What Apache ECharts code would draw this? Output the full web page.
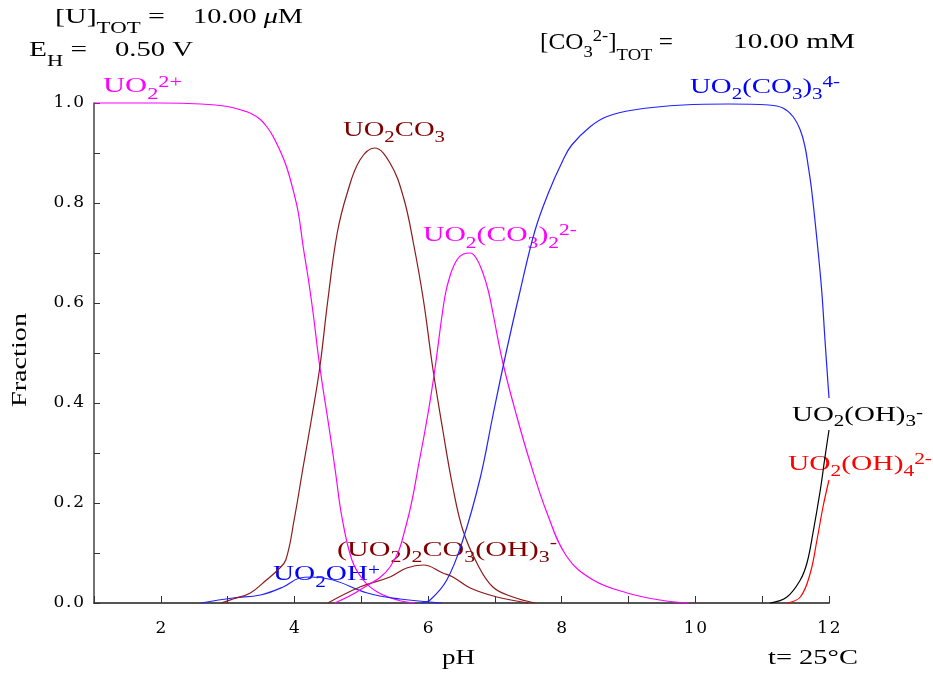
<!DOCTYPE html>
<html><head><meta charset="utf-8">
<script src="https://cdn.jsdelivr.net/npm/echarts@6/dist/echarts.min.js"></script>
<style>html,body{margin:0;padding:0;background:#fff}#c{width:933px;height:675px}</style>
</head><body><div id="c"></div>
<script>
// ---------- data ----------
const uo2_pH   = [1, 2, 2.6, 3.0, 3.2, 3.35, 3.49, 3.6, 3.68, 3.78, 3.88, 3.98, 4.06, 4.13, 4.21, 4.28, 4.38, 4.53, 4.62, 4.71, 4.86, 5.03, 5.24, 5.54, 5.8];
const uo2_frac = [1, 1, 0.998, 0.993, 0.986, 0.979, 0.967, 0.95, 0.933, 0.906, 0.873, 0.826, 0.779, 0.713, 0.646, 0.579, 0.472, 0.34, 0.256, 0.172, 0.086, 0.046, 0.022, 0.006, 0];

const uo2oh_pH   = [2.6, 3.08, 3.49, 3.83, 4.08, 4.25, 4.58, 5.09, 5.58, 6.2];
const uo2oh_frac = [0, 0.01, 0.016, 0.032, 0.05, 0.052, 0.046, 0.02, 0.008, 0];

const uo2co3_pH   = [2.9, 3.08, 3.34, 3.58, 3.75, 3.87, 4.0, 4.13, 4.26, 4.38, 4.50, 4.64, 4.79, 4.98, 5.2, 5.43, 5.63, 5.78, 5.93, 6.07, 6.22, 6.37, 6.52, 6.73, 6.97, 7.27, 7.6];
const uo2co3_frac = [0, 0.008, 0.02, 0.046, 0.066, 0.086, 0.17, 0.272, 0.372, 0.472, 0.606, 0.74, 0.82, 0.886, 0.91, 0.88, 0.812, 0.72, 0.606, 0.47, 0.346, 0.232, 0.146, 0.08, 0.032, 0.012, 0];

const dimer_pH   = [4.5, 4.98, 5.43, 5.68, 5.93, 6.22, 6.37, 6.63, 7.03, 7.5];
const dimer_frac = [0, 0.032, 0.052, 0.07, 0.076, 0.06, 0.052, 0.03, 0.012, 0];

const dic_pH   = [4.6, 4.98, 5.43, 5.68, 5.88, 6.0, 6.1, 6.25, 6.33, 6.43, 6.53, 6.63, 6.72, 6.82, 6.9, 6.97, 7.12, 7.33, 7.53, 7.78, 8.08, 8.47, 8.98, 9.47, 9.9];
const dic_frac = [0, 0.026, 0.072, 0.16, 0.292, 0.38, 0.466, 0.612, 0.655, 0.686, 0.698, 0.70, 0.69, 0.66, 0.625, 0.58, 0.48, 0.372, 0.28, 0.18, 0.092, 0.046, 0.02, 0.006, 0];

const tric_pH   = [5.9, 6.03, 6.28, 6.52, 6.78, 6.97, 7.15, 7.37, 7.6, 7.8, 8.02, 8.15, 8.43, 8.68, 9.07, 9.82, 10.5, 11.1, 11.31, 11.46, 11.57, 11.64, 11.69, 11.74, 11.82, 11.89, 11.94, 12];
const tric_frac = [0, 0.006, 0.046, 0.126, 0.25, 0.375, 0.49, 0.62, 0.745, 0.82, 0.886, 0.916, 0.953, 0.973, 0.986, 0.996, 0.998, 0.996, 0.99, 0.973, 0.946, 0.913, 0.873, 0.826, 0.726, 0.626, 0.526, 0.41];

const oh3_pH   = [11.12, 11.37, 11.57, 11.67, 11.76, 11.87, 11.94, 12];
const oh3_frac = [0, 0.012, 0.046, 0.08, 0.14, 0.226, 0.292, 0.346];

const oh4_pH   = [11.37, 11.57, 11.72, 11.82, 11.91, 12];
const oh4_frac = [0, 0.012, 0.06, 0.126, 0.192, 0.246];

const xTicks = [2, 4, 6, 8, 10, 12];
const yTicks = [0.0, 0.2, 0.4, 0.6, 0.8, 1.0];

// ---------- helpers ----------
const zip = (a, b) => a.map((v, i) => [v, b[i]]);
const SERIF = '"Liberation Serif", "Times New Roman", serif';
const TICKFONT = '"DejaVu Serif", serif';
const ctx = document.createElement('canvas').getContext('2d');
function mw(t, sz, it) { ctx.font = (it ? 'italic ' : '') + sz + 'px ' + SERIF; return ctx.measureText(t).width; }

// label: parts [text, kind('n','b','p','i'), dy?]
function label(spec) {
  const F = spec.size || 22, Fs = spec.subSize || Math.round(F * 0.74);
  let x = 0; const kids = [];
  spec.parts.forEach(p => {
    const t = p[0], k = p[1];
    const sz = (k === 'b' || k === 'p') ? Fs : F;
    let dy = p.length > 2 ? p[2] : (k === 'b' ? spec.sub : (k === 'p' ? spec.sup : 0));
    const it = k === 'i';
    kids.push({ type: 'text', x: x, y: dy - 0.3375 * sz, silent: true,
      style: { text: t, fontSize: sz, fontFamily: SERIF, fontStyle: it ? 'italic' : 'normal',
               fill: spec.color || '#000', align: 'left', verticalAlign: 'middle' } });
    x += mw(t, sz, it);
  });
  const s = spec.len / x;
  return { type: 'group', x: spec.x, y: spec.y, rotation: spec.rot || 0, scaleX: s, children: kids, silent: true };
}

const MAG = '#ff00ff', BRN = '#800000', BLU = '#0000ff', RED = '#ff0000', BLK = '#000000';
const labels = [
  { x: 55, y: 25, len: 110, size: 21, sub: 9, parts: [['[U]', 'n'], ['TOT', 'b'], [' =', 'n']] },
  { x: 193, y: 25, len: 110, size: 21, parts: [['10.00 ', 'n'], ['\u03bc', 'i'], ['M', 'n']] },
  { x: 29, y: 58, len: 58, size: 21, sub: 9, parts: [['E', 'n'], ['H', 'b'], [' =', 'n']] },
  { x: 115, y: 58, len: 78, size: 21, parts: [['0.50 V', 'n']] },
  { x: 540, y: 51, len: 133, size: 23, sub: 7, sup: -9, parts: [['[CO', 'n'], ['3', 'b'], ['2-', 'p'], [']', 'n'], ['TOT', 'b', 10], [' =', 'n']] },
  { x: 733, y: 50, len: 122, size: 21, parts: [['10.00 mM', 'n']] },
  { x: 103, y: 94, len: 79, color: MAG, sub: 6, sup: -6, parts: [['UO', 'n'], ['2', 'b'], ['2+', 'p']] },
  { x: 343, y: 138, len: 102, color: BRN, sub: 5, parts: [['UO', 'n'], ['2', 'b'], ['CO', 'n'], ['3', 'b']] },
  { x: 423, y: 243, len: 154, color: MAG, sub: 6, sup: -7, parts: [['UO', 'n'], ['2', 'b'], ['(CO', 'n'], ['3', 'b'], [')', 'n'], ['2', 'b'], ['2-', 'p']] },
  { x: 690, y: 95, len: 150, color: BLU, sub: 5, sup: -7, parts: [['UO', 'n'], ['2', 'b'], ['(CO', 'n'], ['3', 'b'], [')', 'n'], ['3', 'b'], ['4-', 'p']] },
  { x: 273, y: 582, len: 107, color: BLU, sub: 6, sup: -6, parts: [['UO', 'n'], ['2', 'b'], ['OH', 'n'], ['+', 'p']] },
  { x: 337, y: 558, len: 220, color: BRN, sub: 5, sup: -9, parts: [['(UO', 'n'], ['2', 'b'], [')', 'n'], ['2', 'b'], ['CO', 'n'], ['3', 'b'], ['(OH)', 'n'], ['3', 'b'], ['-', 'p']] },
  { x: 792, y: 423, len: 131, color: BLK, sub: 4, sup: -4, parts: [['UO', 'n'], ['2', 'b'], ['(OH)', 'n'], ['3', 'b'], ['-', 'p']] },
  { x: 788, y: 472, len: 144, color: RED, sub: 5, sup: -7, parts: [['UO', 'n'], ['2', 'b'], ['(OH)', 'n'], ['4', 'b'], ['2-', 'p']] },
  { x: 442, y: 666, len: 33, size: 21, parts: [['pH', 'n']] },
  { x: 768, y: 666, len: 90, size: 21, parts: [['t= 25\u00b0C', 'n']] },
  { x: 28, y: 407, len: 94, size: 21, rot: Math.PI / 2, parts: [['Fraction', 'n']] }
];

const spaced = s => s.split('').join('\u200a');

function line(name, px, fr, color) {
  return { name, type: 'line', data: zip(px, fr), showSymbol: false, smooth: 0.4, clip: false,
           lineStyle: { color, width: 1.2 }, itemStyle: { color }, silent: true, z: 3 };
}

const chart = echarts.init(document.getElementById('c'), null, { renderer: 'canvas' });
chart.setOption({
  animation: false,
  backgroundColor: '#fff',
  grid: { left: 94, right: 104, top: 103, bottom: 72, containLabel: false },
  xAxis: {
    type: 'value', min: 1, max: 12, interval: 1,
    axisLine: { show: true, onZero: false, lineStyle: { color: '#555', width: 2 } },
    axisTick: { show: true, inside: true, length: 7, lineStyle: { color: '#333', width: 1 } },
    splitLine: { show: false },
    axisLabel: { interval: 0, margin: 17, color: '#000', fontFamily: TICKFONT, fontSize: 17,
      formatter: v => xTicks.includes(Math.round(v * 1000) / 1000) ? spaced(String(v)) : '' }
  },
  yAxis: {
    type: 'value', min: 0, max: 1.0, interval: 0.1,
    axisLine: { show: true, lineStyle: { color: '#444', width: 1.5 } },
    axisTick: { show: true, inside: true, length: 6, lineStyle: { color: '#333', width: 1 } },
    splitLine: { show: false },
    axisLabel: { margin: 10, color: '#000', fontFamily: TICKFONT, fontSize: 17,
      formatter: v => { const r = Math.round(v * 10) / 10; return yTicks.some(t => Math.abs(t - r) < 1e-6) ? spaced(r.toFixed(1)) : ''; } }
  },
  series: [
    line('UO2 2+', uo2_pH, uo2_frac, '#ff00ff'),
    line('UO2OH+', uo2oh_pH, uo2oh_frac, '#2222ff'),
    line('UO2CO3', uo2co3_pH, uo2co3_frac, '#8b1a1a'),
    line('(UO2)2CO3(OH)3-', dimer_pH, dimer_frac, '#8b1a1a'),
    line('UO2(CO3)2 2-', dic_pH, dic_frac, '#ff00ff'),
    line('UO2(CO3)3 4-', tric_pH, tric_frac, '#2222ff'),
    line('UO2(OH)3-', oh3_pH, oh3_frac, '#000000'),
    line('UO2(OH)4 2-', oh4_pH, oh4_frac, '#ff0000')
  ],
  graphic: { elements: labels.map(label) }
});
</script></body></html>
